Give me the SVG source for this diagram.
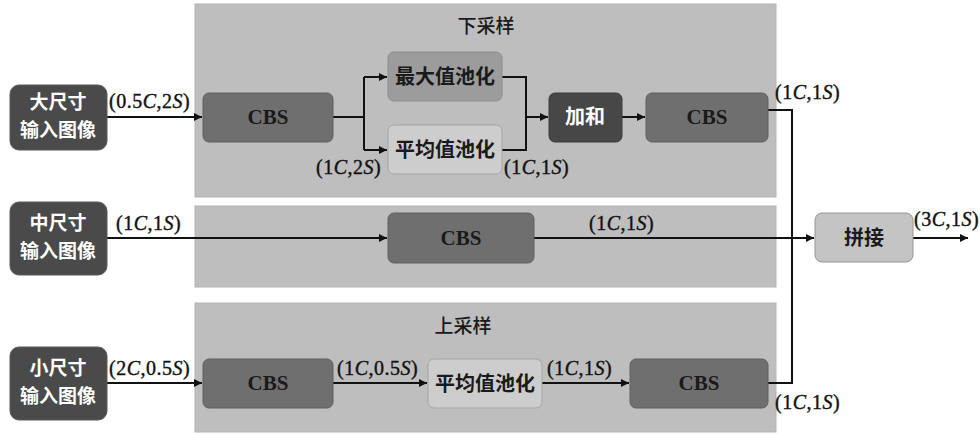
<svg xmlns="http://www.w3.org/2000/svg" width="980" height="434" viewBox="0 0 980 434">
<defs>
<marker id="ah" viewBox="0 0 10 10" refX="10" refY="5" markerWidth="9" markerHeight="8" markerUnits="userSpaceOnUse" orient="auto">
<path d="M0,0 L10,5 L0,10 Z" fill="#111"/>
</marker>
</defs>
<style>
.panel{fill:#bebebe;stroke:#b4b4b4;stroke-width:1}
.inp{fill:#4a4a4a;stroke:#5a5a5a;stroke-width:1}
.cbs{fill:#6f6f6f;stroke:#606060;stroke-width:1}
.maxp{fill:#9c9c9c;stroke:#8c8c8c;stroke-width:1}
.avgp{fill:#cdcdcd;stroke:#a5a5a5;stroke-width:1}
.add{fill:#474747;stroke:#3c3c3c;stroke-width:1}
.cat{fill:#c4c4c4;stroke:#969696;stroke-width:1}
.cjkw{font-family:"Noto Sans CJK SC",sans-serif;font-size:20px;font-weight:bold;fill:#fff;text-anchor:middle}
.inpt{font-family:"Noto Sans CJK SC",sans-serif;font-size:19px;font-weight:bold;fill:#fff;text-anchor:middle}
.cjk{font-family:"Noto Sans CJK SC",sans-serif;font-size:20px;font-weight:bold;fill:#1a1a1a;text-anchor:middle}
.title{font-family:"Noto Sans CJK SC",sans-serif;font-size:19px;font-weight:500;fill:#1a1a1a;text-anchor:middle}
.cbst{font-family:"Liberation Serif",serif;font-size:21px;font-weight:bold;fill:#1a1a1a;text-anchor:middle}
.lbl{font-family:"Liberation Serif",serif;font-size:20px;fill:#111;stroke:#111;stroke-width:0.4;letter-spacing:0.5px}
.lbl tspan.i{font-style:italic}
.ln{fill:none;stroke:#111;stroke-width:2}
</style>

<g id="panels">
<rect class="panel" x="195" y="4" width="581" height="193"/>
<rect class="panel" x="195" y="206" width="581" height="81"/>
<rect class="panel" x="195" y="303" width="581" height="129"/>
<text class="title" x="486" y="33">下采样</text>
<text class="title" x="463" y="333">上采样</text>
</g>

<g id="connectors">
<path class="ln" d="M107,117 H202" marker-end="url(#ah)"/>
<path class="ln" d="M333,117 H364"/>
<path class="ln" d="M364,77 V150"/>
<path class="ln" d="M364,77 H387" marker-end="url(#ah)"/>
<path class="ln" d="M364,150 H387" marker-end="url(#ah)"/>
<path class="ln" d="M502,77 H526 V150 H502"/>
<path class="ln" d="M526,117 H548" marker-end="url(#ah)"/>
<path class="ln" d="M622,117 H645" marker-end="url(#ah)"/>
<path class="ln" d="M768,110 H792 V383 H768"/>
<path class="ln" d="M107,238 H387" marker-end="url(#ah)"/>
<path class="ln" d="M534,238 H814" marker-end="url(#ah)"/>
<path class="ln" d="M913,238 H968" marker-end="url(#ah)"/>
<path class="ln" d="M107,383 H202" marker-end="url(#ah)"/>
<path class="ln" d="M333,383 H427" marker-end="url(#ah)"/>
<path class="ln" d="M542,383 H629" marker-end="url(#ah)"/>
</g>

<g id="input-large">
<rect class="inp" x="10" y="85" width="97" height="65" rx="9"/>
<text class="inpt" x="58" y="109">大尺寸</text>
<text class="inpt" x="58" y="137">输入图像</text>
</g>
<g id="input-mid">
<rect class="inp" x="10" y="202" width="97" height="73" rx="9"/>
<text class="inpt" x="58" y="230">中尺寸</text>
<text class="inpt" x="58" y="258">输入图像</text>
</g>
<g id="input-small">
<rect class="inp" x="10" y="347" width="97" height="73" rx="9"/>
<text class="inpt" x="58" y="375">小尺寸</text>
<text class="inpt" x="58" y="403">输入图像</text>
</g>

<g id="cbs-top1">
<rect class="cbs" x="203" y="93" width="130" height="49" rx="6"/>
<text class="cbst" x="268" y="124">CBS</text>
</g>
<g id="maxpool">
<rect class="maxp" x="388" y="52" width="114" height="49" rx="6"/>
<text class="cjk" x="445" y="84">最大值池化</text>
</g>
<g id="avgpool-top">
<rect class="avgp" x="388" y="125" width="114" height="49" rx="6"/>
<text class="cjk" x="445" y="157">平均值池化</text>
</g>
<g id="add">
<rect class="add" x="549" y="93" width="73" height="49" rx="6"/>
<text class="cjkw" x="585" y="124">加和</text>
</g>
<g id="cbs-top2">
<rect class="cbs" x="646" y="93" width="122" height="49" rx="6"/>
<text class="cbst" x="707" y="124">CBS</text>
</g>
<g id="cbs-mid">
<rect class="cbs" x="388" y="213" width="146" height="50" rx="6"/>
<text class="cbst" x="461" y="245">CBS</text>
</g>
<g id="cbs-bot1">
<rect class="cbs" x="203" y="359" width="130" height="49" rx="6"/>
<text class="cbst" x="268" y="390">CBS</text>
</g>
<g id="avgpool-bot">
<rect class="avgp" x="428" y="359" width="114" height="49" rx="6"/>
<text class="cjk" x="485" y="391">平均值池化</text>
</g>
<g id="cbs-bot2">
<rect class="cbs" x="630" y="359" width="138" height="49" rx="6"/>
<text class="cbst" x="699" y="390">CBS</text>
</g>
<g id="concat">
<rect class="cat" x="815" y="213" width="98" height="49" rx="7"/>
<text class="cjk" x="864" y="245">拼接</text>
</g>

<g id="labels">
<text class="lbl" x="109" y="108">(0.5<tspan class="i">C</tspan>,2<tspan class="i">S</tspan>)</text>
<text class="lbl" x="316" y="174">(1<tspan class="i">C</tspan>,2<tspan class="i">S</tspan>)</text>
<text class="lbl" x="504" y="174">(1<tspan class="i">C</tspan>,1<tspan class="i">S</tspan>)</text>
<text class="lbl" x="775" y="99">(1<tspan class="i">C</tspan>,1<tspan class="i">S</tspan>)</text>
<text class="lbl" x="116" y="230">(1<tspan class="i">C</tspan>,1<tspan class="i">S</tspan>)</text>
<text class="lbl" x="589" y="230">(1<tspan class="i">C</tspan>,1<tspan class="i">S</tspan>)</text>
<text class="lbl" x="914" y="226">(3<tspan class="i">C</tspan>,1<tspan class="i">S</tspan>)</text>
<text class="lbl" x="109" y="375">(2<tspan class="i">C</tspan>,0.5<tspan class="i">S</tspan>)</text>
<text class="lbl" x="337" y="375">(1<tspan class="i">C</tspan>,0.5<tspan class="i">S</tspan>)</text>
<text class="lbl" x="547" y="375">(1<tspan class="i">C</tspan>,1<tspan class="i">S</tspan>)</text>
<text class="lbl" x="775" y="409">(1<tspan class="i">C</tspan>,1<tspan class="i">S</tspan>)</text>
</g>
</svg>
